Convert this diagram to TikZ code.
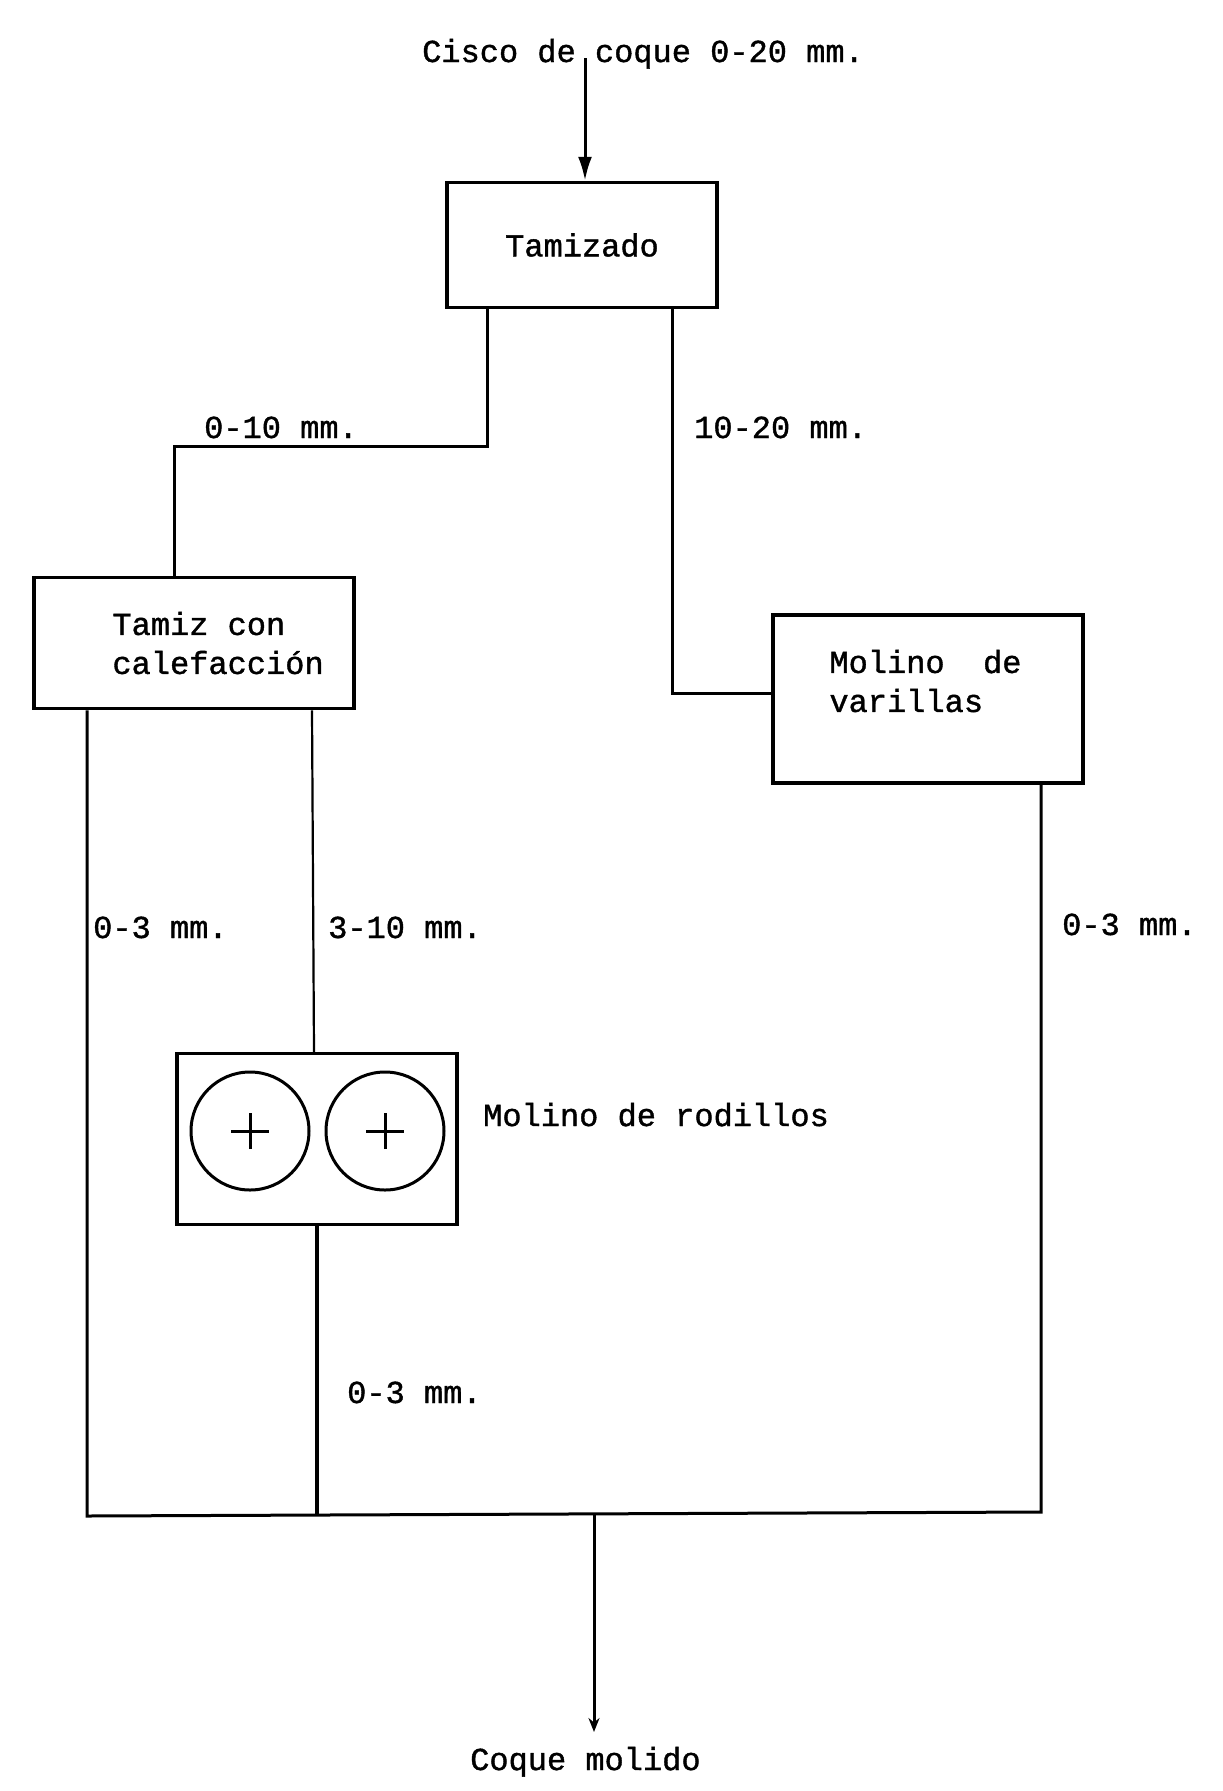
\documentclass[tikz,border=0pt]{standalone}
\usepackage{fontspec}
\setmainfont{Liberation Mono}[FakeBold=1.2]
\usepackage{tikz}
\usetikzlibrary{arrows.meta}

\begin{document}
\begin{tikzpicture}[
    x=1pt, y=-1pt,
    >=Stealth,
    font=\fontsize{32}{39}\selectfont,
    every node/.style={inner sep=0pt},
    unitbox/.style={draw, line width=3.5pt, rectangle},
    flow/.style={line width=3pt},
    lbl/.style={anchor=base west},
    boxtext/.style={anchor=west, align=left}
  ]
    \useasboundingbox (0,0) rectangle (1223,1791);

    % units of the plant
    \node[unitbox, minimum width=270pt, minimum height=125pt] (tamizado) at (582,245) {Tamizado};
    \node[unitbox, minimum width=320pt, minimum height=131pt] (tamiz)    at (194,643) {};
    \node[unitbox, minimum width=310pt, minimum height=168pt] (varillas) at (928,699) {};
    \node[unitbox, minimum width=280pt, minimum height=171pt] (rodillos) at (317,1139) {};

    \node[boxtext] (tamiztxt)    at ([xshift=80pt]tamiz.west)               {Tamiz con\\calefacción};
    \node[boxtext] (varillastxt) at ([xshift=58pt,yshift=18pt]varillas.west) {Molino~ de\\varillas};

    % the two rolls
    \foreach \name/\cx in {rollA/250, rollB/385} {
      \node[draw, circle, line width=3pt, minimum size=118pt] (\name) at (\cx,1131) {};
      \draw[line width=3pt] ([xshift=-19pt]\name.center) -- ([xshift=19pt]\name.center)
                            ([yshift=-18pt]\name.center) -- ([yshift=18pt]\name.center);
    }

    % inlet, outlet and collecting line
    \coordinate (inlet)  at (585,58);
    \coordinate (bend)   at (174,446);
    \coordinate (colL)   at (87,1516);
    \coordinate (colR)   at (1041,1512);
    \coordinate (colO)   at (594,1514);
    \coordinate (outlet) at (594,1732);

    \draw[flow, -{Latex[length=24pt,width=14pt]}] (inlet) -- (inlet |- tamizado.north);
    \draw[flow] ([xshift=-95pt]tamizado.south) |- (bend) -- (bend |- tamiz.north);
    \draw[flow] ([xshift=90pt]tamizado.south) |- ([yshift=6pt]varillas.west);
    \draw[flow] ([xshift=-107pt]tamiz.south) -- (colL) -- (colR) -- ([xshift=113pt]varillas.south);
    \draw[flow, line width=2.2pt] ([xshift=118pt]tamiz.south) -- ([xshift=-3pt]rodillos.north);
    \draw[flow, line width=3.5pt] (rodillos.south) -- (rodillos.south |- colO);
    \draw[flow, -{Stealth[length=14pt,width=11pt]}] (colO) -- (outlet);

    % stream labels
    \node[lbl] (feed)    at (422,62)    {Cisco de coque 0-20 mm.};
    \node[lbl] (fine)    at (204,438)   {0-10 mm.};
    \node[lbl] (coarse)  at (694,438)   {10-20 mm.};
    \node[lbl] (pass)    at (93,938)    {0-3 mm.};
    \node[lbl] (reject)  at (328,938)   {3-10 mm.};
    \node[lbl] (rodout)  at (347,1403)  {0-3 mm.};
    \node[lbl] (varout)  at (1062,935)  {0-3 mm.};
    \node[lbl] (rodname) at (483,1126)  {Molino de rodillos};
    \node[lbl] (product) at (470,1770)  {Coque molido};
  \end{tikzpicture}
\end{document}
